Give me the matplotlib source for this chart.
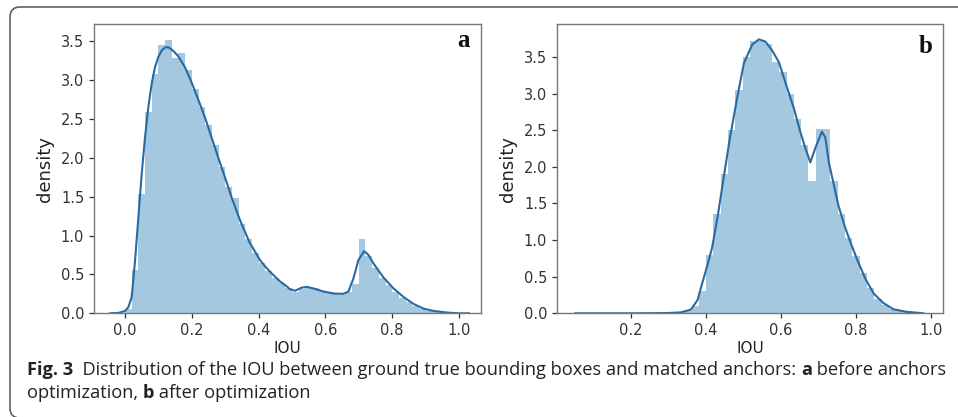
import matplotlib
matplotlib.use('Agg')
import matplotlib.pyplot as plt
from matplotlib.patches import FancyBboxPatch
from matplotlib import font_manager

# ---------------- data ----------------
# (a) before anchors optimization : bins of width 0.02 from 0.0 to 1.0
edges_a = [round(0.02 * i, 4) for i in range(51)]
hist_a = [0.06, 0.56, 1.54, 2.59, 3.08, 3.45, 3.52, 3.28, 3.35, 3.13,
          2.89, 2.65, 2.42, 2.16, 1.88, 1.63, 1.48, 1.15, 0.95, 0.78,
          0.65, 0.55, 0.46, 0.39, 0.32, 0.28, 0.31, 0.34, 0.32, 0.29,
          0.27, 0.25, 0.24, 0.27, 0.38, 0.95, 0.74, 0.58, 0.46, 0.36,
          0.28, 0.20, 0.14, 0.09, 0.06, 0.035, 0.02, 0.01, 0.005, 0.002]
kde_a_x = [-0.045, -0.02, 0.0, 0.01, 0.02, 0.03, 0.04, 0.05, 0.06, 0.07,
           0.08, 0.09, 0.10, 0.11, 0.12, 0.13, 0.14, 0.15, 0.16, 0.17,
           0.18, 0.19, 0.20, 0.22, 0.24, 0.26, 0.28, 0.30, 0.32, 0.344,
           0.36, 0.374, 0.38, 0.404, 0.42, 0.434, 0.44, 0.464, 0.48, 0.494,
           0.509, 0.529, 0.544, 0.564, 0.594, 0.624, 0.654, 0.669, 0.684, 0.699,
           0.716, 0.729, 0.744, 0.774, 0.804, 0.834, 0.864, 0.894, 0.924, 0.963,
           1.0, 1.03]
kde_a_y = [0.0, 0.005, 0.03, 0.08, 0.21, 0.68, 1.24, 1.80, 2.27, 2.66,
           2.96, 3.17, 3.30, 3.38, 3.42, 3.42, 3.39, 3.35, 3.30, 3.23,
           3.16, 3.06, 2.96, 2.74, 2.51, 2.25, 1.99, 1.74, 1.48, 1.20,
           1.04, 0.90, 0.86, 0.685, 0.60, 0.535, 0.51, 0.41, 0.36, 0.31,
           0.29, 0.33, 0.34, 0.32, 0.28, 0.255, 0.25, 0.28, 0.45, 0.685,
           0.80, 0.75, 0.64, 0.46, 0.32, 0.21, 0.12, 0.06, 0.03, 0.01,
           0.0, 0.0]

# (b) after optimization : bins of width 0.0195 from 0.05
edges_b = [round(0.05 + 0.0195 * i, 4) for i in range(49)]
hist_b = [0, 0, 0, 0, 0, 0, 0, 0, 0, 0,
          0, 0, 0, 0, 0.01, 0.03, 0.10, 0.30, 0.80, 1.35,
          1.90, 2.50, 3.05, 3.50, 3.72, 3.72, 3.68, 3.43, 3.30, 3.00,
          2.65, 2.30, 1.80, 2.52, 2.52, 1.80, 1.35, 1.03, 0.78, 0.55,
          0.34, 0.20, 0.11, 0.06, 0.03, 0.012, 0.005, 0.002]
kde_b_x = [0.052, 0.10, 0.15, 0.20, 0.25, 0.30, 0.333, 0.36, 0.378, 0.391,
           0.404, 0.417, 0.432, 0.448, 0.464, 0.484, 0.502, 0.524, 0.542, 0.559,
           0.577, 0.595, 0.617, 0.635, 0.652, 0.666, 0.679, 0.694, 0.710, 0.719,
           0.728, 0.741, 0.754, 0.770, 0.786, 0.805, 0.826, 0.848, 0.874, 0.901,
           0.936, 0.981]
kde_b_y = [0.0, 0.0, 0.0, 0.0, 0.001, 0.004, 0.012, 0.05, 0.18, 0.42,
           0.65, 0.90, 1.33, 1.86, 2.38, 2.95, 3.42, 3.67, 3.74, 3.71,
           3.59, 3.43, 3.08, 2.80, 2.48, 2.25, 2.06, 2.28, 2.48, 2.40,
           2.07, 1.77, 1.47, 1.20, 0.97, 0.72, 0.47, 0.27, 0.14, 0.055,
           0.02, 0.0]

yticks = [0.0, 0.5, 1.0, 1.5, 2.0, 2.5, 3.0, 3.5]
xticks_a = [0.0, 0.2, 0.4, 0.6, 0.8, 1.0]
xticks_b = [0.2, 0.4, 0.6, 0.8, 1.0]

caption_1 = [("Fig. 3", "bold"),
             ("  Distribution of the IOU between ground true bounding boxes and matched anchors: ", "normal"),
             ("a", "bold"), (" before anchors", "normal")]
caption_2 = [("optimization, ", "normal"), ("b", "bold"), (" after optimization", "normal")]

# ---------------- figure ----------------
W, H = 958, 417
fig = plt.figure(figsize=(W / 100, H / 100), dpi=100)
fig.patch.set_facecolor('white')

blue = '#1f77b4'


def draw_panel(ax, edges, heights, kx, ky, xlim, ylim, xticks, tag, tag_xy):
    widths = [edges[i + 1] - edges[i] for i in range(len(heights))]
    ax.bar(edges[:-1], heights, width=widths, align='edge', color=blue,
           alpha=0.4, linewidth=0)
    ax.plot(kx, ky, color='#2a6aa0', lw=1.5)
    ax.set_xlim(*xlim)
    ax.set_ylim(*ylim)
    ax.set_xticks(xticks)
    ax.set_xticklabels(['%.1f' % v for v in xticks])
    ax.set_yticks(yticks)
    ax.set_yticklabels(['%.1f' % v for v in yticks])
    ax.tick_params(labelsize=10.5, colors='#333333', length=3.5, width=0.9)
    for s in ax.spines.values():
        s.set_color('#777777')
        s.set_linewidth(1.0)
    ax.set_xlabel('IOU', fontsize=11, color='#222222', labelpad=2)
    ax.set_ylabel('density', fontsize=13, color='#222222', labelpad=5)
    ax.text(tag_xy[0], tag_xy[1], tag, transform=ax.transAxes, fontsize=18,
            fontweight='bold', family='Liberation Serif', ha='center',
            va='baseline', color='#111111')


ax_a = fig.add_axes([94 / W, 1 - 313.3 / H, (481 - 94) / W, (313.3 - 24) / H])
ax_b = fig.add_axes([557 / W, 1 - 313.3 / H, (943 - 557) / W, (313.3 - 24) / H])

draw_panel(ax_a, edges_a, hist_a, kde_a_x, kde_a_y, (-0.093, 1.066), (0, 3.72),
           xticks_a, 'a', ((463 - 94) / 387, (313.3 - 47) / 289.3))
draw_panel(ax_b, edges_b, hist_b, kde_b_x, kde_b_y, (0.003, 1.033), (0, 3.95),
           xticks_b, 'b', ((926 - 557) / 386, (313.3 - 53) / 289.3))

# rounded frame around figure + caption (right and bottom run off the page)
frame = FancyBboxPatch((10, -1), 1000, 411, boxstyle='round,pad=0,rounding_size=10',
                       transform=None, fill=False, edgecolor='#555555', lw=1.1)
fig.patches.append(frame)

# caption, bold and regular pieces put side by side
names = {f.name for f in font_manager.fontManager.ttflist}
cap_font = 'Liberation Sans Narrow' if 'Liberation Sans Narrow' in names else 'Open Sans'
renderer = fig.canvas.get_renderer()


def line_width(pieces, size):
    total = 0
    for txt, wt in pieces:
        t = fig.text(0, 0, txt, fontsize=size, fontweight=wt, family=cap_font)
        total += t.get_window_extent(renderer).width
        t.remove()
    return total


size = 14.0
size = size * (953 - 27) / line_width(caption_1, size)


def put_line(pieces, x0, ybase):
    x = x0
    for txt, wt in pieces:
        t = fig.text(x / W, 1 - ybase / H, txt, fontsize=size, fontweight=wt,
                     family=cap_font, color='#222222', va='baseline')
        x += t.get_window_extent(renderer).width


put_line(caption_1, 27, 375)
put_line(caption_2, 27, 398)

fig.savefig('out.png', dpi=100, facecolor='white')
